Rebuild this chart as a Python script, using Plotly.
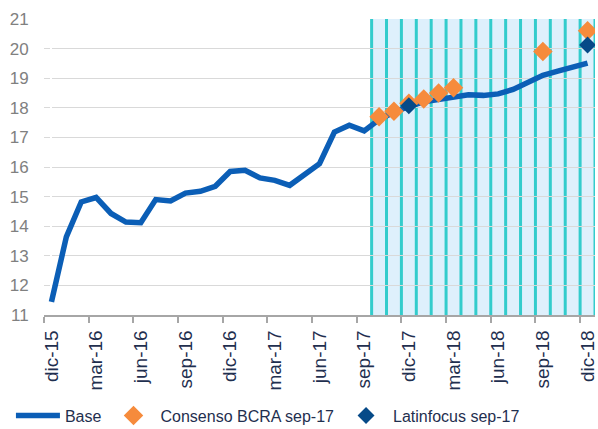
import plotly.graph_objects as go

meses = ['dic-15', 'ene-16', 'feb-16', 'mar-16', 'abr-16', 'may-16', 'jun-16', 'jul-16', 'ago-16',
         'sep-16', 'oct-16', 'nov-16', 'dic-16', 'ene-17', 'feb-17', 'mar-17', 'abr-17', 'may-17',
         'jun-17', 'jul-17', 'ago-17', 'sep-17', 'oct-17', 'nov-17', 'dic-17', 'ene-18', 'feb-18',
         'mar-18', 'abr-18', 'may-18', 'jun-18', 'jul-18', 'ago-18', 'sep-18', 'oct-18', 'nov-18',
         'dic-18']
base = [11.44, 13.64, 14.82, 14.97, 14.43, 14.14, 14.12, 14.9, 14.85, 15.12, 15.18, 15.35,
        15.85, 15.89, 15.63, 15.55, 15.38, 15.72, 16.11, 17.18, 17.41, 17.22, 17.6, 17.85,
        18.05, 18.2, 18.29, 18.37, 18.44, 18.42, 18.47, 18.62, 18.88, 19.1, 19.24, 19.37, 19.51]

consenso_meses = ['oct-17', 'nov-17', 'dic-17', 'ene-18', 'feb-18', 'mar-18', 'sep-18', 'dic-18']
consenso = [17.7, 17.88, 18.15, 18.3, 18.5, 18.68, 19.9, 20.6]

latin_meses = ['dic-17', 'dic-18']
latin = [18.07, 20.12]

# meses proyectados (zona sombreada)
proy_meses = meses[meses.index('oct-17'):]

x_base = list(range(len(meses)))
x_cons = [meses.index(m) for m in consenso_meses]
x_lat = [meses.index(m) for m in latin_meses]
x_proy = [meses.index(m) for m in proy_meses]

fig = go.Figure()

# zona sombreada
fig.add_shape(type='rect', xref='x', yref='paper', x0=x_proy[0] - 0.5, x1=x_proy[-1] + 0.5,
              y0=0, y1=1, fillcolor='#DEF0FC', line_width=0, layer='below')
for i in x_proy + [x_proy[-1] + 1]:
    fig.add_shape(type='line', xref='x', yref='paper', x0=i - 0.5, x1=i - 0.5, y0=0, y1=1,
                  line=dict(color='#33CCCC', width=3), layer='between')

fig.add_trace(go.Scatter(x=x_base, y=base, mode='lines', name='Base',
                         line=dict(color='#0B5EB6', width=5.5)))
fig.add_trace(go.Scatter(x=x_cons, y=consenso, mode='markers', name='Consenso BCRA sep-17',
                         marker=dict(symbol='diamond', size=15, color='#F68B3C')))
fig.add_trace(go.Scatter(x=x_lat, y=latin, mode='markers', name='Latinfocus sep-17',
                         marker=dict(symbol='diamond', size=13, color='#064A88')))

fig.update_layout(
    width=598, height=429,
    margin=dict(l=44, r=3, t=19, b=114, autoexpand=False),
    plot_bgcolor='white', paper_bgcolor='white',
    font=dict(family='Liberation Sans, Arial, sans-serif', color='#1F2F4F'),
    showlegend=True,
    legend=dict(orientation='h', x=-0.06, xanchor='left', y=-0.34, yanchor='middle',
                itemwidth=44, font=dict(size=16, color='#1F2F4F')),
)
# marcas mayores invisibles solo para separar las etiquetas del eje
fig.update_xaxes(range=[-0.5, len(meses) - 0.5], tickvals=x_base[::3], ticktext=meses[::3],
                 tickangle=-90, ticks='outside', ticklen=6, tickcolor='rgba(0,0,0,0)',
                 showgrid=False, showline=True, linecolor='#A6A6A6',
                 linewidth=1.5, tickfont=dict(size=19, color='#1F2F4F'),
                 minor=dict(tick0=-0.5, dtick=3, ticks='outside', ticklen=6, tickcolor='#A6A6A6',
                            tickwidth=1.5, showgrid=False))
fig.update_yaxes(range=[11, 21], dtick=1, showgrid=True, gridcolor='#D9D9D9', gridwidth=1.2,
                 zeroline=False, showline=False, ticks='outside', ticklen=11,
                 tickcolor='rgba(0,0,0,0)', tickfont=dict(size=17, color='#808080'))

fig.write_html('out.html', config={'displayModeBar': False},
               post_script="document.body.style.margin='0';document.body.style.overflow='hidden';")
